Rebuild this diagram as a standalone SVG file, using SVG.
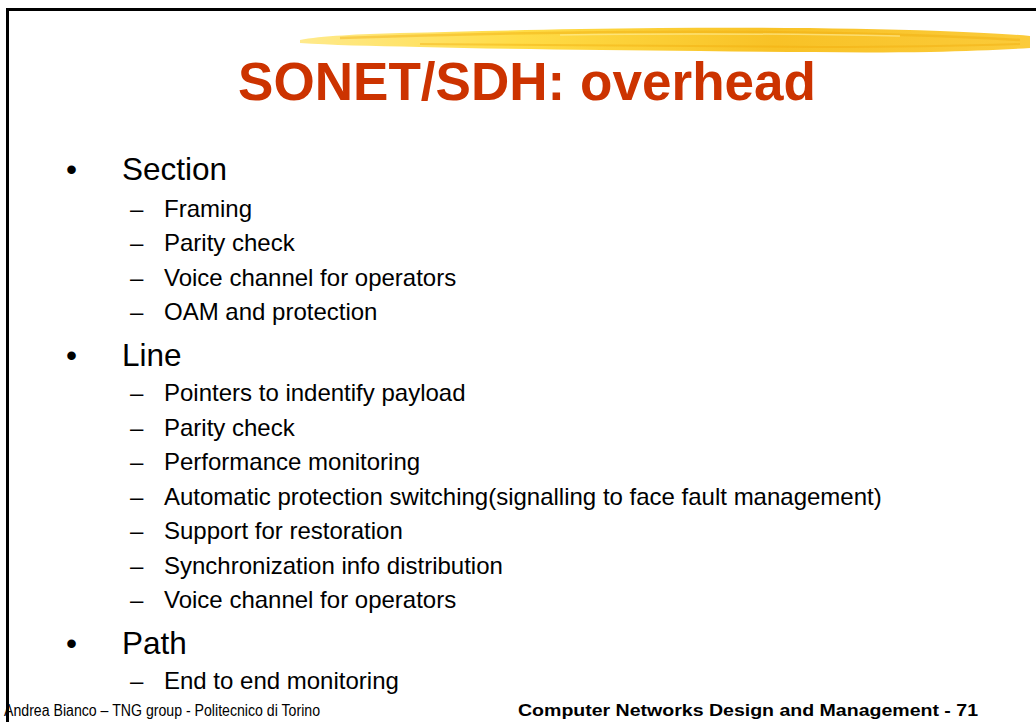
<svg xmlns="http://www.w3.org/2000/svg" width="1036" height="722" viewBox="0 0 1036 722">
<defs>
<style>
.t{font-family:"Liberation Sans",Arial,sans-serif;fill:#000}
.l1{font-size:31.5px}
.l2{font-size:24px}
.ft{font-size:16px}
</style>
<linearGradient id="brush" x1="0" y1="0" x2="1" y2="0">
<stop offset="0" stop-color="#FFEA8C"/>
<stop offset="0.3" stop-color="#FFDC46"/>
<stop offset="0.65" stop-color="#F8C226"/>
<stop offset="1" stop-color="#FBCB3A"/>
</linearGradient>
</defs>
<rect width="1036" height="722" fill="#fff"/>
<g id="frame">
<rect x="6" y="8" width="1030" height="3" fill="#000"/>
<rect x="6" y="8" width="3" height="714" fill="#000"/>
</g>
<g id="brushstroke">
<path d="M300 40 C320 36 360 34 400 33 C480 31 560 29 660 28 C760 27 860 28 940 31 C980 33 1010 34 1030 36 L1030 48 C1000 50 970 51 930 52 C860 53 780 52 700 51 C600 50 500 49 420 47 C370 46 330 45 300 43 Z" fill="url(#brush)"/>
<path d="M340 38 C450 34 600 31 760 32 C860 33 950 36 1020 40" stroke="#F0AE10" stroke-width="2.5" fill="none" opacity="0.45"/>
<path d="M420 44 C560 45 700 46 820 47 C900 47 960 46 1020 44" stroke="#EFAA0A" stroke-width="2" fill="none" opacity="0.4"/>
<path d="M560 35 C680 33 800 34 900 36" stroke="#FFF0A0" stroke-width="1.5" fill="none" opacity="0.6"/>
</g>
<g id="title">
<text x="527" y="100" text-anchor="middle" font-family="Liberation Sans,Arial,sans-serif" font-weight="bold" font-size="54" fill="#CC3300" textLength="578" lengthAdjust="spacingAndGlyphs">SONET/SDH: overhead</text>
</g>
<g id="section">
<text class="t l1" x="66" y="180">•</text>
<text class="t l1" x="122" y="180">Section</text>
<text class="t l2" x="130" y="217">–</text><text class="t l2" x="164" y="217">Framing</text>
<text class="t l2" x="130" y="251">–</text><text class="t l2" x="164" y="251">Parity check</text>
<text class="t l2" x="130" y="286">–</text><text class="t l2" x="164" y="286">Voice channel for operators</text>
<text class="t l2" x="130" y="320">–</text><text class="t l2" x="164" y="320">OAM and protection</text>
</g>
<g id="line">
<text class="t l1" x="66" y="366">•</text>
<text class="t l1" x="122" y="366">Line</text>
<text class="t l2" x="130" y="401">–</text><text class="t l2" x="164" y="401">Pointers to indentify payload</text>
<text class="t l2" x="130" y="436">–</text><text class="t l2" x="164" y="436">Parity check</text>
<text class="t l2" x="130" y="470">–</text><text class="t l2" x="164" y="470">Performance monitoring</text>
<text class="t l2" x="130" y="505">–</text><text class="t l2" x="164" y="505">Automatic protection switching(signalling to face fault management)</text>
<text class="t l2" x="130" y="539">–</text><text class="t l2" x="164" y="539">Support for restoration</text>
<text class="t l2" x="130" y="574">–</text><text class="t l2" x="164" y="574">Synchronization info distribution</text>
<text class="t l2" x="130" y="608">–</text><text class="t l2" x="164" y="608">Voice channel for operators</text>
</g>
<g id="path">
<text class="t l1" x="66" y="654">•</text>
<text class="t l1" x="122" y="654">Path</text>
<text class="t l2" x="130" y="689">–</text><text class="t l2" x="164" y="689">End to end monitoring</text>
</g>
<g id="footer">
<text class="t ft" x="4" y="716" textLength="316" lengthAdjust="spacingAndGlyphs">Andrea Bianco – TNG group - Politecnico di Torino</text>
<text class="t ft" x="518" y="716" font-weight="bold" textLength="460" lengthAdjust="spacingAndGlyphs">Computer Networks Design and Management - 71</text>
</g>
</svg>
